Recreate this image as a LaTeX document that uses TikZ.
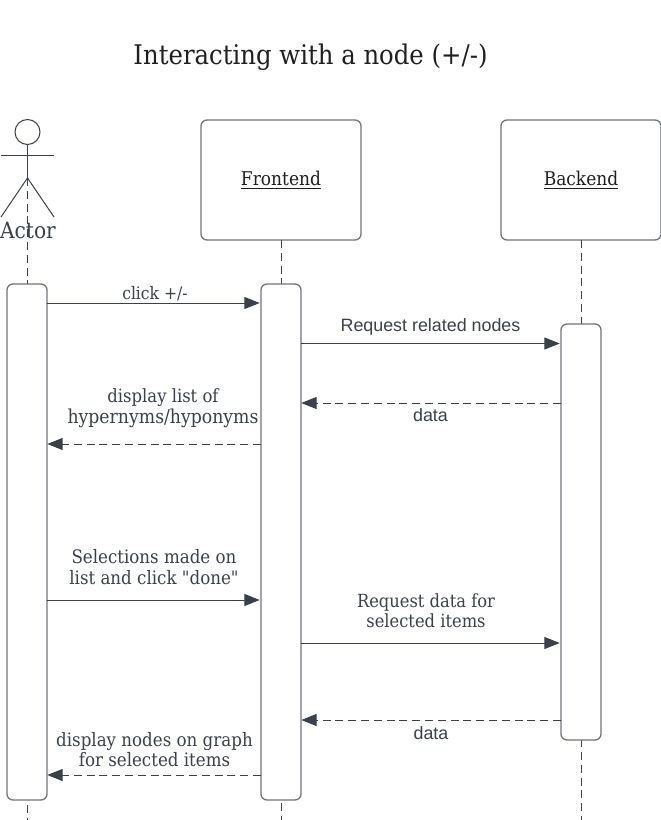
\documentclass[tikz,border=0pt]{standalone}
\usepackage{fontspec}
\newfontfamily\serf[FakeStretch=0.9]{DejaVu Serif}
\newfontfamily\sansf{Liberation Sans}
\usetikzlibrary{arrows.meta}
\definecolor{ink}{HTML}{3A414A}
\definecolor{edge}{HTML}{6F747C}
\definecolor{titleink}{HTML}{1F1F1F}
\tikzset{
  px/.style={x=0.75pt,y=-0.75pt},
  lifebox/.style={draw=edge,line width=1pt,rounded corners=4.5pt,fill=white,inner sep=0pt,outer sep=0pt,minimum width=120pt,minimum height=90pt,text=titleink,font=\serf\fontsize{14.2}{16}\selectfont},
  activation/.style={draw=edge,line width=1pt,rounded corners=4.5pt,fill=white,inner sep=0pt,outer sep=0pt,minimum width=30pt},
  lifeline/.style={draw=ink,line width=0.75pt,dash pattern=on 6pt off 3.6pt},
  actorline/.style={draw=ink,line width=0.75pt},
  msg/.style={draw=ink,line width=0.75pt,shorten >=1pt,-{Triangle[length=11.5pt,width=9pt,fill=ink]}},
  reply/.style={msg,shorten >=0.2pt,dash pattern=on 6pt off 3.6pt},
  serifmsg/.style={text=ink,font=\serf\fontsize{13.9}{15.4}\selectfont,align=center,inner sep=0pt},
  sansmsg/.style={text=ink,font=\sansf\fontsize{13.4}{15}\selectfont,align=center,inner sep=0pt},
}
\begin{document}
\begin{tikzpicture}[px]
\useasboundingbox[fill=white] (0,0) rectangle (660,820);
\coordinate (lA) at (27.5,178);
\coordinate (lAb) at (27.5,820);
\coordinate (lFb) at (281,820);
\coordinate (lBb) at (581,820);
\node[lifebox] (front) at (281,180) {\underline{Frontend}};
\node[lifebox] (back) at (581,180) {\underline{Backend}};
\draw[lifeline] (lA) -- (lAb);
\draw[lifeline] (front.south) -- (lFb);
\draw[lifeline] (back.south) -- (lBb);
\node[activation,minimum height=387pt] (aA) at (27,542) {};
\node[activation,minimum height=387pt] (aF) at (281,542) {};
\node[activation,minimum height=312pt] (aB) at (581,532) {};
% actor
\node[draw=ink,line width=0.75pt,circle,minimum size=18.75pt,inner sep=0pt,outer sep=0pt] (head) at (27.5,132) {};
\coordinate (arml) at (1,156);
\coordinate (armr) at (54,156);
\coordinate (legl) at (1,217);
\coordinate (legr) at (54,217);
\draw[actorline] (head.south) -- (lA);
\draw[actorline] (arml) -- (armr);
\draw[actorline] (legl) -- (lA) -- (legr);
\node[text=ink,font=\serf\fontsize{16.8}{20}\selectfont,inner sep=0pt] (actor) at (28,230.5) {Actor};
% title
\node[text=titleink,font=\serf\fontsize{20.3}{24}\selectfont,inner sep=0pt] (title) at (310.5,57.5) {Interacting with a node (+/-)};
% messages
\coordinate (m1) at (0,303);
\coordinate (m2) at (0,343.5);
\coordinate (m3) at (0,403);
\coordinate (m4) at (0,444);
\coordinate (m5) at (0,600);
\coordinate (m6) at (0,643);
\coordinate (m7) at (0,720);
\coordinate (m8) at (0,775);
\draw[msg] (aA.east |- m1) -- (aF.west |- m1);
\draw[msg] (aF.east |- m2) -- (aB.west |- m2);
\draw[reply] (aB.west |- m3) -- (aF.east |- m3);
\draw[reply] (aF.west |- m4) -- (aA.east |- m4);
\draw[msg] (aA.east |- m5) -- (aF.west |- m5);
\draw[msg] (aF.east |- m6) -- (aB.west |- m6);
\draw[reply] (aB.west |- m7) -- (aF.east |- m7);
\draw[reply] (aF.west |- m8) -- (aA.east |- m8);
% labels
\node[serifmsg,font=\serf\fontsize{13}{15.4}\selectfont] (t1) at (155,294) {click +/-};
\node[sansmsg] (t2) at (430.5,327) {Request related nodes};
\node[sansmsg] (t3) at (430.5,415.5) {data};
\node[serifmsg,font=\serf\fontsize{14.4}{15.6}\selectfont] (t4) at (163,408) {{\fontsize{13.7}{15.6}\selectfont display list of}\\hypernyms/hyponyms};
\node[serifmsg] (t5) at (154,567) {Selections made on\\list and click "done"};
\node[serifmsg,font=\serf\fontsize{13.6}{15.4}\selectfont] (t6) at (426,610.5) {Request data for\\selected items};
\node[sansmsg] (t7) at (431,733) {data};
\node[serifmsg] (t8) at (154.5,749.5) {display nodes on graph\\for selected items};
\end{tikzpicture}
\end{document}
